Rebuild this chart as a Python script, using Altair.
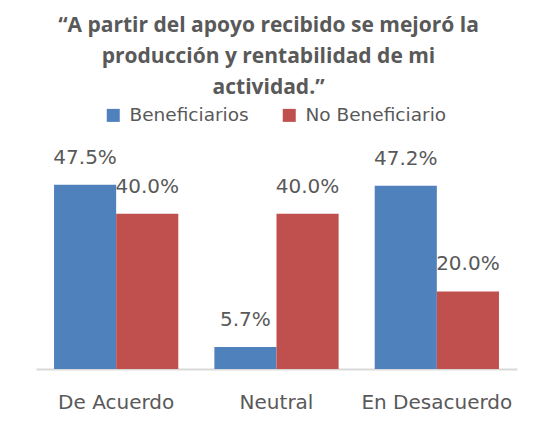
import altair as alt
import pandas as pd

categories = ["De Acuerdo", "Neutral", "En Desacuerdo"]
series = ["Beneficiarios", "No Beneficiario"]
beneficiarios = [47.5, 5.7, 47.2]
no_beneficiario = [40.0, 40.0, 20.0]
colors = ["#4F81BD", "#C0504D"]
title_lines = ["“A partir del apoyo recibido se mejoró la",
               "producción y rentabilidad de mi",
               "actividad.”"]

rows = []
for c, b, n in zip(categories, beneficiarios, no_beneficiario):
    rows.append({"cat": c, "serie": series[0], "val": b})
    rows.append({"cat": c, "serie": series[1], "val": n})
df = pd.DataFrame(rows)

TXT = "#595959"
FONT = "DejaVu Sans"

base = alt.Chart(df).transform_calculate(
    label="format(datum.val, '.1f') + '%'"
).encode(
    x=alt.X("cat:N", sort=categories, title=None,
            scale=alt.Scale(paddingInner=0.225, paddingOuter=0.1125),
            axis=alt.Axis(labelAngle=0, ticks=False, domainColor="#D9D9D9",
                          domainWidth=2, labelPadding=23, labelFontSize=20,
                          labelColor=TXT, labelFont=FONT, labelFontWeight="normal")),
    xOffset=alt.XOffset("serie:N", sort=series,
                        scale=alt.Scale(paddingInner=0, paddingOuter=0)),
    y=alt.Y("val:Q", scale=alt.Scale(domain=[0, 50], nice=False), axis=None),
)

bars = base.mark_bar().encode(
    color=alt.Color("serie:N", sort=series,
                    scale=alt.Scale(domain=series, range=colors),
                    legend=alt.Legend(title=None, orient="none", direction="horizontal",
                                      legendX=68, legendY=-69, symbolType="square",
                                      symbolSize=169, symbolStrokeWidth=0,
                                      labelFontSize=18.5, labelFont=FONT, labelColor=TXT,
                                      columnPadding=31, labelOffset=7))
)

text = base.mark_text(baseline="alphabetic", dy=-21, fontSize=20, font=FONT,
                      color=TXT).encode(text="label:N")

chart = alt.layer(bars, text).properties(
    width=481, height=194,
    autosize=alt.AutoSizeParams(type="none"),
    padding={"left": 28, "top": 167, "right": 27, "bottom": 52},
    title=alt.TitleParams(text=title_lines, anchor="middle", fontSize=21,
                          font="Open Sans", fontWeight="bold", color=TXT,
                          lineHeight=31, offset=8, dx=-8),
).configure_view(stroke=None)

chart.save("out.html", embed_options={"renderer": "svg", "actions": False})
